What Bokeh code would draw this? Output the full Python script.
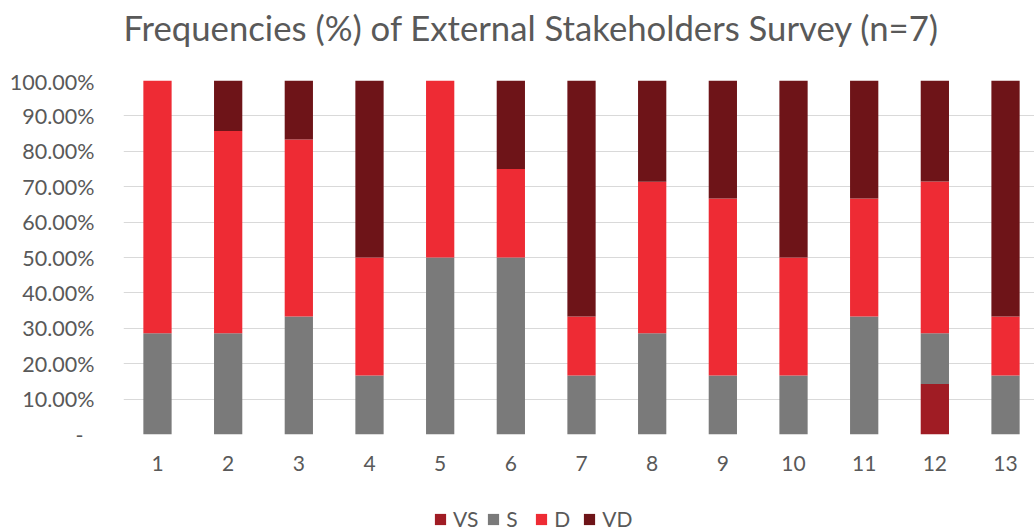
from bokeh.plotting import figure
from bokeh.layouts import column
from bokeh.models import (ColumnDataSource, Range1d, FixedTicker, CustomJSTickFormatter,
                          Legend, LegendItem, Label)
from bokeh.embed import file_html
from bokeh.resources import INLINE

categories = [1, 2, 3, 4, 5, 6, 7, 8, 9, 10, 11, 12, 13]
series_names = ["VS", "S", "D", "VD"]
VS = [0, 0, 0, 0, 0, 0, 0, 0, 0, 0, 0, 14.29, 0]
S = [28.57, 28.57, 33.33, 16.67, 50.0, 50.0, 16.67, 28.57, 16.67, 16.67, 33.33, 14.29, 16.67]
D = [71.43, 57.14, 50.0, 33.33, 50.0, 25.0, 16.67, 42.86, 50.0, 33.33, 33.33, 42.86, 16.67]
VD = [0, 14.29, 16.67, 50.0, 0, 25.0, 66.67, 28.57, 33.33, 50.0, 33.33, 28.57, 66.67]
y_ticks = [0, 10, 20, 30, 40, 50, 60, 70, 80, 90, 100]
colors = ["#a01c24", "#7a7a7a", "#ee2b34", "#6e1418"]
title_text = "Frequencies (%) of External Stakeholders Survey (n=7)"

source = ColumnDataSource(dict(x=categories, VS=VS, S=S, D=D, VD=VD))

FONT = "Lato"
TXT = "#595959"
W = 1034
X_RANGE = (0.519, 13.41)


def strip(height):
    f = figure(width=W, height=height, output_backend="svg", toolbar_location=None,
               x_range=Range1d(*X_RANGE), y_range=Range1d(200, 201),
               x_axis_location=None, y_axis_location=None,
               min_border_left=123, min_border_right=0, min_border_top=0,
               min_border_bottom=0)
    f.grid.visible = False
    f.outline_line_color = None
    return f


# title strip
top = strip(68)
top.add_layout(Label(x=0, y=41, x_units="screen", y_units="screen", text=title_text,
                     text_font=FONT, text_font_size="34.7px", text_color=TXT,
                     text_baseline="middle", text_align="left"))

# main chart
p = figure(width=W, height=412, output_backend="svg", toolbar_location=None,
           x_range=Range1d(*X_RANGE), y_range=Range1d(0, 100),
           min_border_left=123, min_border_right=0, min_border_top=12,
           min_border_bottom=46)
p.outline_line_color = None

renderers = p.vbar_stack(series_names, x="x", width=0.4, source=source,
                         color=colors, line_color=None)

p.xgrid.grid_line_color = None
p.ygrid.grid_line_color = "#d9d9d9"
p.ygrid.grid_line_width = 1
p.ygrid.ticker = FixedTicker(ticks=y_ticks)

p.yaxis.ticker = FixedTicker(ticks=y_ticks)
p.yaxis.formatter = CustomJSTickFormatter(code="""
    return tick == 0 ? '-\u00a0\u00a0' : tick.toFixed(2) + '%';
""")
p.xaxis.ticker = FixedTicker(ticks=categories)
for ax in (p.xaxis, p.yaxis):
    ax.axis_line_color = None
    ax.major_tick_line_color = None
    ax.minor_tick_line_color = None
    ax.major_label_text_font = FONT
    ax.major_label_text_color = TXT
p.yaxis.major_label_text_font_size = "21.5px"
p.xaxis.major_label_text_font_size = "21px"
p.yaxis.major_label_standoff = 23
p.xaxis.major_label_standoff = 15

# legend strip (same series drawn outside its visible y range, used only as legend keys)
leg = strip(52)
leg_renderers = leg.vbar_stack(series_names, x="x", width=0.4, source=source,
                               color=colors, line_color=None)
items = [LegendItem(label=n, renderers=[r]) for n, r in zip(series_names, leg_renderers)]
legend = Legend(items=items, orientation="horizontal", location=(310, 1),
                glyph_width=14, glyph_height=14, label_standoff=6, spacing=8,
                label_text_font=FONT, label_text_font_size="21px", label_text_color=TXT,
                border_line_color=None, background_fill_alpha=0, padding=0, margin=0)
leg.add_layout(legend, "center")

layout = column(top, p, leg, spacing=0)
open("out.html", "w").write(file_html(layout, INLINE))
